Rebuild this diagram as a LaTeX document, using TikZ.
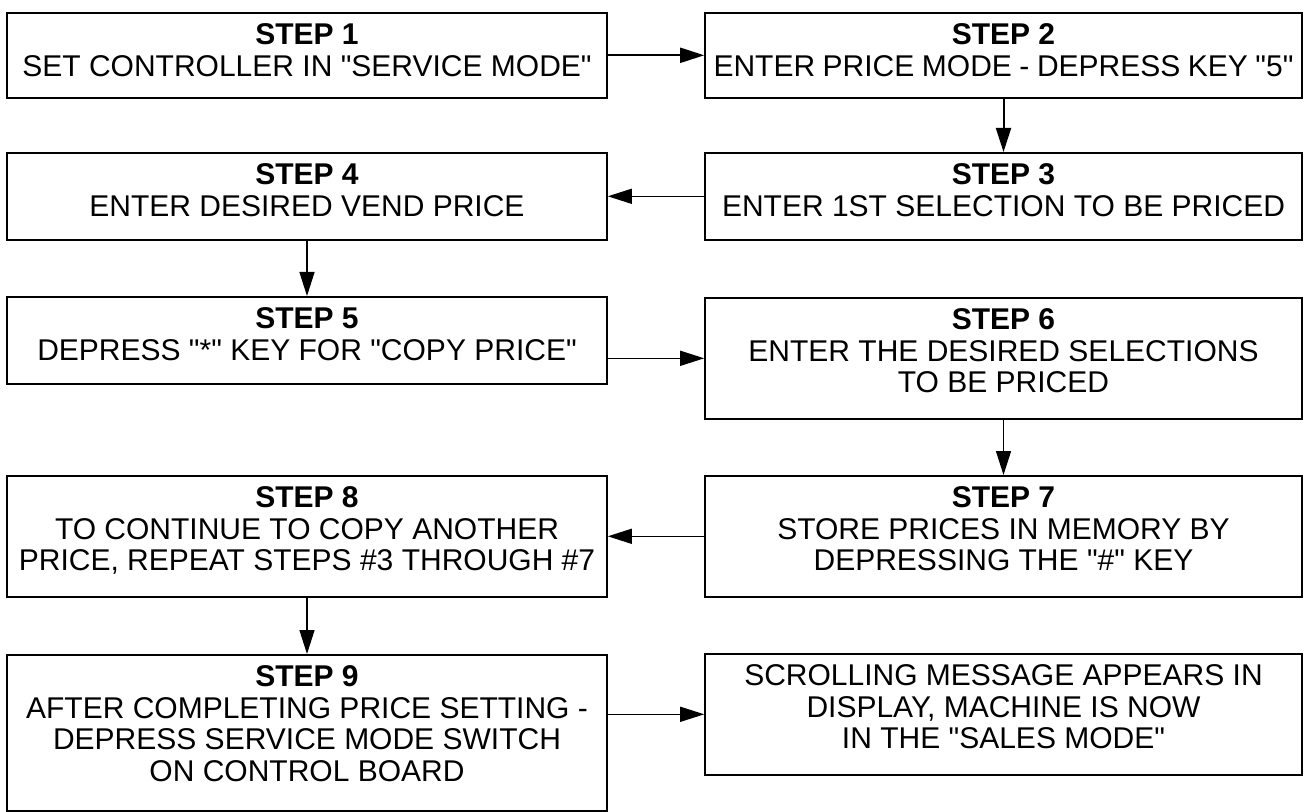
\documentclass[tikz,border=0pt]{standalone}
\usepackage{fontspec}
\setmainfont{Liberation Sans}[Ligatures=TeXOff]
\usetikzlibrary{arrows.meta}
\newcommand{\steptext}[2]{\parbox[c][#1][t]{290pt}{\centering #2}}
\begin{document}
\begin{tikzpicture}[x=0.5pt,y=-0.5pt,
  stepbox/.style={draw=black,line width=0.8pt,anchor=north,inner xsep=0pt,inner ysep=5.5pt,font=\fontsize{15pt}{15.8pt}\selectfont},
  leftbox/.style={stepbox,minimum width=300pt},
  rightbox/.style={stepbox,minimum width=298.5pt},
  arr/.style={line width=0.7pt,-{Triangle[length=12pt,width=7.5pt]}}]
\useasboundingbox (0,0) rectangle (1305,812);
\node (s1) at (307,12) [leftbox] {\steptext{31.5pt}{\textbf{STEP 1}\\SET CONTROLLER IN "SERVICE MODE"}};
\node (s2) at (1003.5,12) [rightbox] {\steptext{31.5pt}{\textbf{STEP 2}\\ENTER PRICE MODE - DEPRESS KEY "5"}};
\node (s3) at (1003.5,152) [rightbox] {\steptext{32.5pt}{\textbf{STEP 3}\\ENTER 1ST SELECTION TO BE PRICED}};
\node (s4) at (307,152) [leftbox] {\steptext{32.5pt}{\textbf{STEP 4}\\ENTER DESIRED VEND PRICE}};
\node (s5) at (307,296) [leftbox] {\steptext{32.5pt}{\textbf{STEP 5}\\DEPRESS "*" KEY FOR "COPY PRICE"}};
\node (s6) at (1003.5,297) [rightbox] {\steptext{49.5pt}{\textbf{STEP 6}\\ENTER THE DESIRED SELECTIONS\\TO BE PRICED}};
\node (s7) at (1003.5,475) [rightbox] {\steptext{49.5pt}{\textbf{STEP 7}\\STORE PRICES IN MEMORY BY\\DEPRESSING THE "\#" KEY}};
\node (s8) at (307,475) [leftbox] {\steptext{49.5pt}{\textbf{STEP 8}\\TO CONTINUE TO COPY ANOTHER\\PRICE, REPEAT STEPS \#3 THROUGH \#7}};
\node (s9) at (307,654) [leftbox] {\steptext{67pt}{\textbf{STEP 9}\\AFTER COMPLETING PRICE SETTING -\\DEPRESS SERVICE MODE SWITCH\\ON CONTROL BOARD}};
\node (msg) at (1003.5,653) [rightbox] {\steptext{49.5pt}{SCROLLING MESSAGE APPEARS IN\\DISPLAY, MACHINE IS NOW\\IN THE "SALES MODE"}};
\draw[arr,line width=1pt] (s1.east) -- (s2.west);
\draw[arr,line width=1pt] (s2.south) -- (s3.north);
\draw[arr] (s3.west) -- (s4.east);
\draw[arr] (s4.south) -- (s5.north);
\draw[arr] (s5.east |- s6.west) -- (s6.west);
\draw[arr] (s6.south) -- (s7.north);
\draw[arr] (s7.west) -- (s8.east);
\draw[arr] (s8.south) -- (s9.north);
\draw[arr] (s9.east |- msg.west) -- (msg.west);
\end{tikzpicture}
\end{document}
